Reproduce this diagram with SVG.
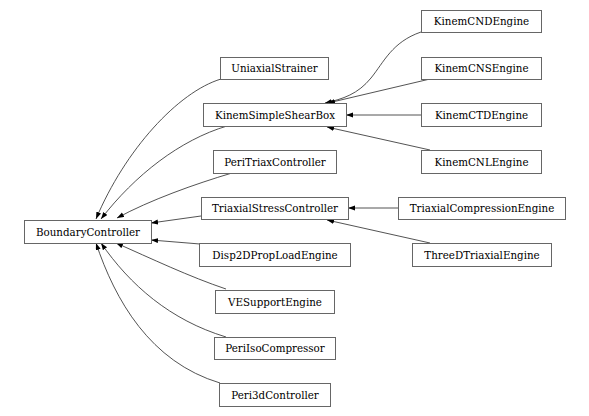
<svg xmlns="http://www.w3.org/2000/svg" width="589" height="416" viewBox="0 0 589 416">
<style>
.n rect{fill:#fff;stroke:#666;stroke-width:1}
.n text{font-family:"DejaVu Serif",serif;font-size:10.3px;fill:#000;text-anchor:middle}
.e path{fill:none;stroke:#404040;stroke-width:0.9}
</style>
<defs>
<marker id="ah" markerUnits="userSpaceOnUse" markerWidth="8" markerHeight="6" refX="7" refY="2.5" orient="auto">
<path d="M0,0 L7,2.5 L0,5 z" fill="#000" stroke="none"/>
</marker>
</defs>
<rect width="589" height="416" fill="#fff"/>
<g class="e">
<path marker-end="url(#ah)" d="M221,79 C178,92 125,150 96,219"/>
<path marker-end="url(#ah)" d="M227,126 C180,140 135,175 101,219"/>
<path marker-end="url(#ah)" d="M232,173 C195,184 150,200 117,218"/>
<path marker-end="url(#ah)" d="M201,216 L151,223"/>
<path marker-end="url(#ah)" d="M200,244 L151,240"/>
<path marker-end="url(#ah)" d="M226,289 C190,277 150,258 116,243"/>
<path marker-end="url(#ah)" d="M226,337 C170,320 130,285 101,243"/>
<path marker-end="url(#ah)" d="M220,383 C150,362 115,300 96,243"/>
<path marker-end="url(#ah)" d="M421,32 C392,42 384,62 371,78 C358,94 343,99 325,103"/>
<path marker-end="url(#ah)" d="M430,79 L328,103"/>
<path marker-end="url(#ah)" d="M421,115 L346,115"/>
<path marker-end="url(#ah)" d="M430,150 L327,127"/>
<path marker-end="url(#ah)" d="M398,208 L348,208"/>
<path marker-end="url(#ah)" d="M430,243 L327,220"/>
</g>
<g id="BoundaryController" class="n"><rect x="24.5" y="220.5" width="127" height="23"/><text x="88" y="235.5">BoundaryController</text></g>
<g id="UniaxialStrainer" class="n"><rect x="220.5" y="57.5" width="108" height="22"/><text x="274.5" y="72">UniaxialStrainer</text></g>
<g id="KinemSimpleShearBox" class="n"><rect x="203.5" y="103.5" width="143" height="23"/><text x="275" y="118.5">KinemSimpleShearBox</text></g>
<g id="PeriTriaxController" class="n"><rect x="213.5" y="150.5" width="123" height="23"/><text x="275" y="165.5">PeriTriaxController</text></g>
<g id="TriaxialStressController" class="n"><rect x="201.5" y="197.5" width="147" height="22"/><text x="275" y="212">TriaxialStressController</text></g>
<g id="Disp2DPropLoadEngine" class="n"><rect x="199.5" y="243.5" width="151" height="23"/><text x="275" y="258.5">Disp2DPropLoadEngine</text></g>
<g id="VESupportEngine" class="n"><rect x="215.5" y="290.5" width="119" height="23"/><text x="275" y="305.5">VESupportEngine</text></g>
<g id="PeriIsoCompressor" class="n"><rect x="214.5" y="337.5" width="121" height="22"/><text x="275" y="352">PeriIsoCompressor</text></g>
<g id="Peri3dController" class="n"><rect x="219.5" y="383.5" width="111" height="23"/><text x="275" y="398.5">Peri3dController</text></g>
<g id="KinemCNDEngine" class="n"><rect x="421.5" y="10.5" width="120" height="22"/><text x="481.5" y="25">KinemCNDEngine</text></g>
<g id="KinemCNSEngine" class="n"><rect x="421.5" y="57.5" width="120" height="22"/><text x="481.5" y="72">KinemCNSEngine</text></g>
<g id="KinemCTDEngine" class="n"><rect x="421.5" y="103.5" width="120" height="23"/><text x="481.5" y="118.5">KinemCTDEngine</text></g>
<g id="KinemCNLEngine" class="n"><rect x="421.5" y="150.5" width="120" height="23"/><text x="481.5" y="165.5">KinemCNLEngine</text></g>
<g id="TriaxialCompressionEngine" class="n"><rect x="398.5" y="197.5" width="167" height="22"/><text x="482" y="212">TriaxialCompressionEngine</text></g>
<g id="ThreeDTriaxialEngine" class="n"><rect x="412.5" y="243.5" width="139" height="23"/><text x="482" y="258.5">ThreeDTriaxialEngine</text></g>
</svg>
